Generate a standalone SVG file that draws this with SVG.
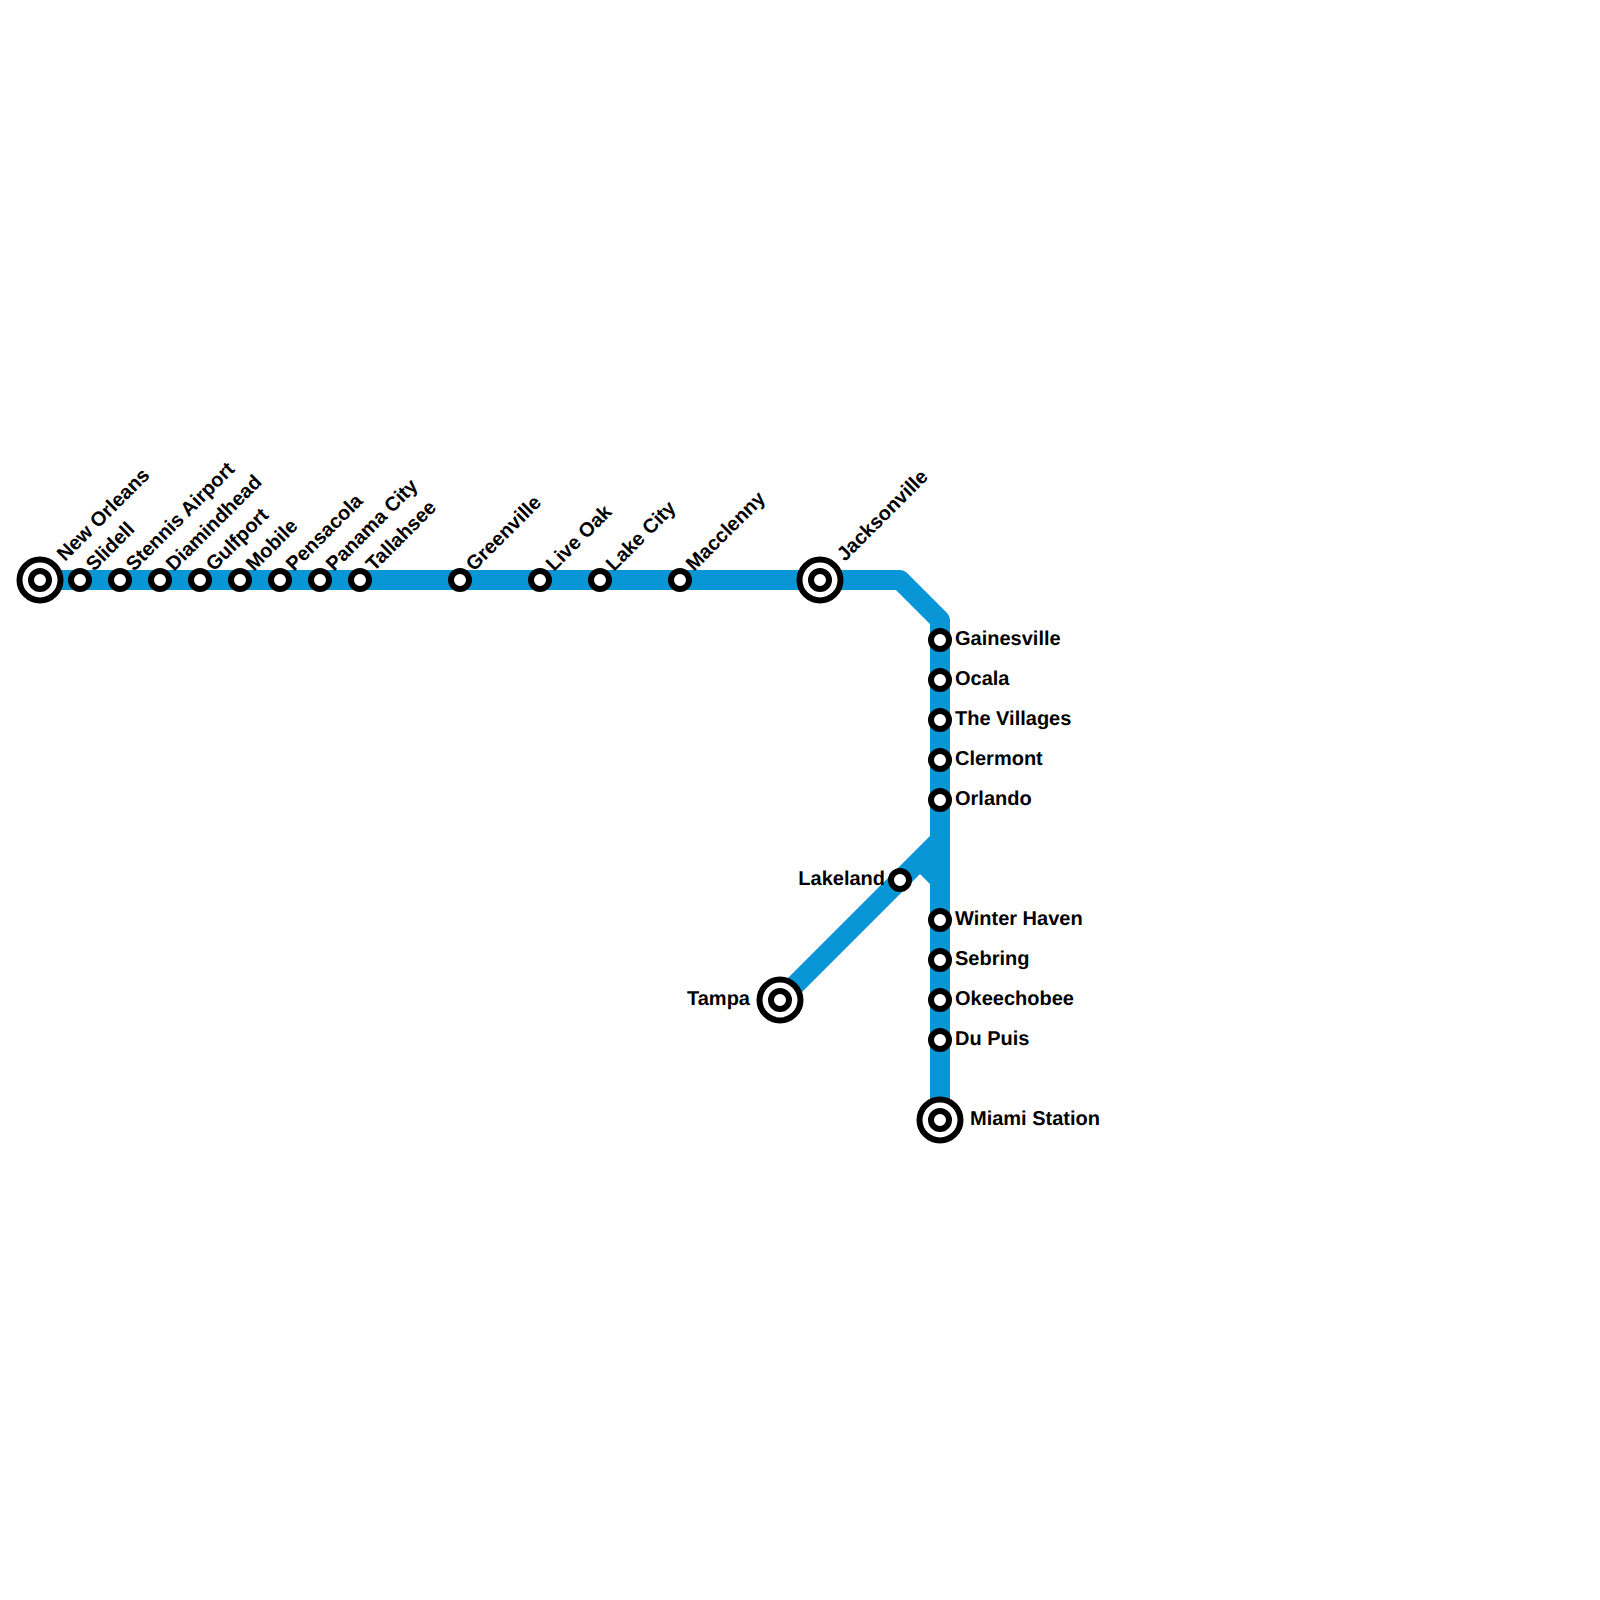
<svg xmlns="http://www.w3.org/2000/svg" width="1600" height="1600" viewBox="0 0 1600 1600">
<style>
.line{fill:none;stroke:#0896d7;stroke-width:20;stroke-linejoin:round}
.st{fill:#fff;stroke:#000;stroke-width:6}
.big{fill:#fff;stroke:#000;stroke-width:6}
text{font-family:"Liberation Sans",Arial,sans-serif;font-weight:700;font-size:20px;fill:#000;text-rendering:geometricPrecision}
.e{text-anchor:end}
</style>
<defs>
<g id="s"><circle class="st" r="9"/></g>
<g id="b"><circle class="big" r="20.5"/><circle class="st" r="9"/></g>
</defs>
<rect width="1600" height="1600" fill="#fff"/>
<g id="connectors">
<path class="line" d="M40 580H900L940 620V1120"/>
<path class="line" d="M780 1000L940 840"/>
<path class="line" d="M920 860L940 880"/>
</g>
<g id="new-orleans"><use href="#b" x="40" y="580"/><text transform="translate(65 562) rotate(-45)">New Orleans</text></g>
<g id="slidell"><use href="#s" x="80" y="580"/><text transform="translate(94 572) rotate(-45)">Slidell</text></g>
<g id="stennis-airport"><use href="#s" x="120" y="580"/><text transform="translate(134 572) rotate(-45)">Stennis Airport</text></g>
<g id="diamindhead"><use href="#s" x="160" y="580"/><text transform="translate(174 572) rotate(-45)">Diamindhead</text></g>
<g id="gulfport"><use href="#s" x="200" y="580"/><text transform="translate(214 572) rotate(-45)">Gulfport</text></g>
<g id="mobile"><use href="#s" x="240" y="580"/><text transform="translate(254 572) rotate(-45)">Mobile</text></g>
<g id="pensacola"><use href="#s" x="280" y="580"/><text transform="translate(294 572) rotate(-45)">Pensacola</text></g>
<g id="panama-city"><use href="#s" x="320" y="580"/><text transform="translate(334 572) rotate(-45)">Panama City</text></g>
<g id="tallahsee"><use href="#s" x="360" y="580"/><text transform="translate(374 572) rotate(-45)">Tallahsee</text></g>
<g id="greenville"><use href="#s" x="460" y="580"/><text transform="translate(474 572) rotate(-45)">Greenville</text></g>
<g id="live-oak"><use href="#s" x="540" y="580"/><text transform="translate(554 572) rotate(-45)">Live Oak</text></g>
<g id="lake-city"><use href="#s" x="600" y="580"/><text transform="translate(614 572) rotate(-45)">Lake City</text></g>
<g id="macclenny"><use href="#s" x="680" y="580"/><text transform="translate(694 572) rotate(-45)">Macclenny</text></g>
<g id="jacksonville"><use href="#b" x="820" y="580"/><text transform="translate(845 562) rotate(-45)">Jacksonville</text></g>
<g id="gainesville"><use href="#s" x="940" y="640"/><text x="955" y="645">Gainesville</text></g>
<g id="ocala"><use href="#s" x="940" y="680"/><text x="955" y="685">Ocala</text></g>
<g id="the-villages"><use href="#s" x="940" y="720"/><text x="955" y="725">The Villages</text></g>
<g id="clermont"><use href="#s" x="940" y="760"/><text x="955" y="765">Clermont</text></g>
<g id="orlando"><use href="#s" x="940" y="800"/><text x="955" y="805">Orlando</text></g>
<g id="lakeland"><use href="#s" x="900" y="880"/><text class="e" x="885" y="885">Lakeland</text></g>
<g id="winter-haven"><use href="#s" x="940" y="920"/><text x="955" y="925">Winter Haven</text></g>
<g id="sebring"><use href="#s" x="940" y="960"/><text x="955" y="965">Sebring</text></g>
<g id="okeechobee"><use href="#s" x="940" y="1000"/><text x="955" y="1005">Okeechobee</text></g>
<g id="du-puis"><use href="#s" x="940" y="1040"/><text x="955" y="1045">Du Puis</text></g>
<g id="miami-station"><use href="#b" x="940" y="1120"/><text x="970" y="1125">Miami Station</text></g>
<g id="tampa"><use href="#b" x="780" y="1000"/><text class="e" x="750" y="1005">Tampa</text></g>
</svg>
